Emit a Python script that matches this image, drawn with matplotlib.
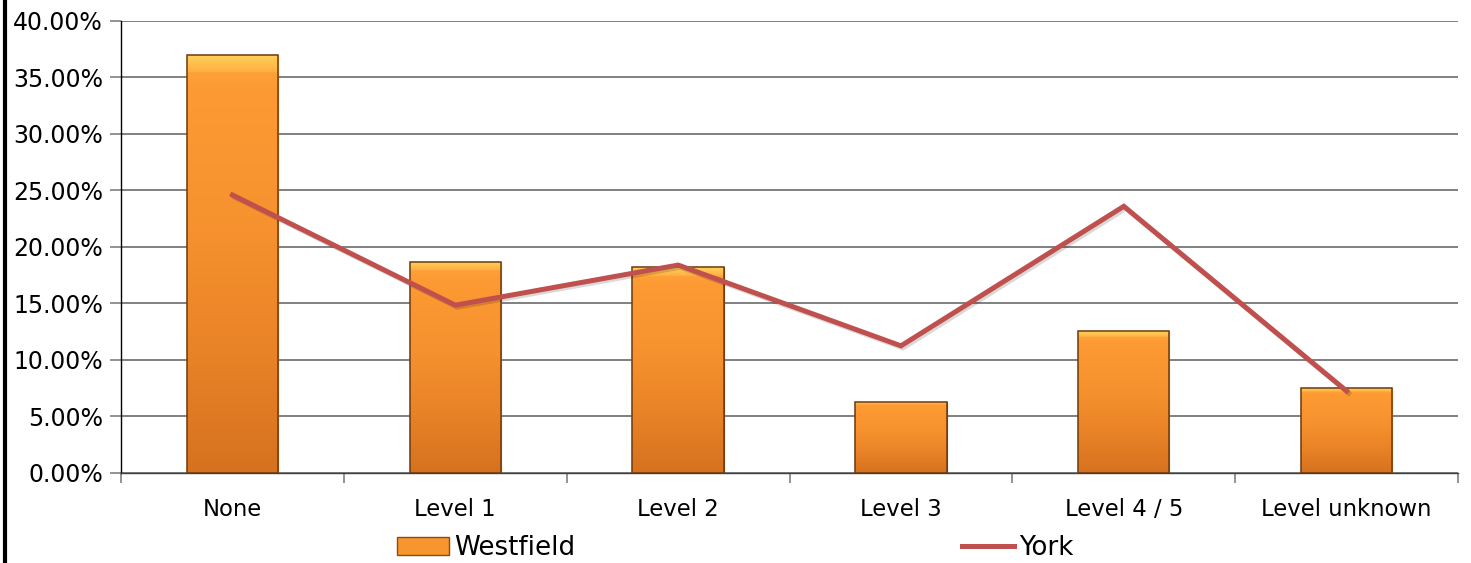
import numpy as np
import matplotlib.pyplot as plt
from matplotlib.patches import Patch
from matplotlib.lines import Line2D
from matplotlib.colors import LinearSegmentedColormap
import matplotlib.patheffects as pe

plt.rcParams["font.family"] = ["DejaVu Sans"]

categories = ["None", "Level 1", "Level 2", "Level 3", "Level 4 / 5", "Level unknown"]
westfield = [37.0, 18.7, 18.2, 6.3, 12.55, 7.5]
york = [24.6, 14.85, 18.4, 11.25, 23.6, 7.25]

fig = plt.figure(figsize=(14.71, 5.63), dpi=100)
ax = fig.add_axes([0.0823, 0.1599, 0.9089, 0.8028])

x = np.arange(len(categories))
bar_w = 0.41

bars = ax.bar(x, westfield, width=bar_w, color="#F7962F",
              edgecolor="#8A4A14", linewidth=0.8, zorder=2)

# vertical orange gradient inside each bar, light band at the top
orange = LinearSegmentedColormap.from_list(
    "bar", ["#D6721F", "#EA8428", "#F7932F", "#FD9A33", "#FFD05A"])
for b in bars:
    x0, y0 = b.get_x(), b.get_y()
    w, h = b.get_width(), b.get_height()
    top = np.concatenate([np.linspace(0, 0.78, 245), np.linspace(0.85, 1.0, 11)])
    img = ax.imshow(top.reshape(-1, 1), cmap=orange, aspect="auto",
                    extent=[x0, x0 + w, y0, y0 + h], origin="lower", zorder=2.5)
    img.set_clip_path(b)
    ax.add_patch(plt.Rectangle((x0, y0), w, h, fill=False,
                               edgecolor="#6E3A0E", linewidth=1.1, zorder=2.6))

ax.plot(x, york, color="#C0504D", linewidth=3.6, zorder=3,
        solid_joinstyle="miter",
        path_effects=[pe.SimpleLineShadow(offset=(1.5, -1.5), alpha=0.15), pe.Normal()])

ax.set_xlim(-0.5, len(categories) - 0.5)
ax.set_ylim(0, 40)
ax.set_yticks(np.arange(0, 41, 5))
ax.set_yticklabels([f"{v:.2f}%" for v in np.arange(0, 41, 5)], fontsize=17)
ax.yaxis.grid(True, color="#808080", linewidth=1.4, zorder=0)
ax.set_axisbelow(True)

ax.set_xticks(x)
ax.set_xticklabels(categories, fontsize=16.4)
ax.set_xticks(np.arange(-0.5, len(categories)), minor=True)
ax.tick_params(axis="x", which="major", length=0, pad=18)
ax.tick_params(axis="x", which="minor", length=7, color="#808080", width=1.2)
ax.tick_params(axis="y", length=8, color="#808080", width=1.2, pad=5)

for s in ["top", "right"]:
    ax.spines[s].set_visible(False)
ax.spines["left"].set_color("black")
ax.spines["left"].set_linewidth(1.0)
ax.spines["bottom"].set_color("#404040")
ax.spines["bottom"].set_linewidth(1.0)

handles = [Patch(facecolor="#F7962F", edgecolor="#8A4A14", label="Westfield"),
           Line2D([0], [0], color="#C0504D", linewidth=3.6, label="York")]
fig.legend(handles=handles, loc="center", bbox_to_anchor=(0.5, 0.027), ncol=2,
           frameon=False, fontsize=18.8, handlelength=2.0, handletextpad=0.2,
           columnspacing=14.8, borderaxespad=0)

# frame edge at left
fig.add_artist(Line2D([0.0034, 0.0034], [0, 1], color="black", linewidth=3,
                      transform=fig.transFigure))

fig.savefig("out.png", dpi=100)
